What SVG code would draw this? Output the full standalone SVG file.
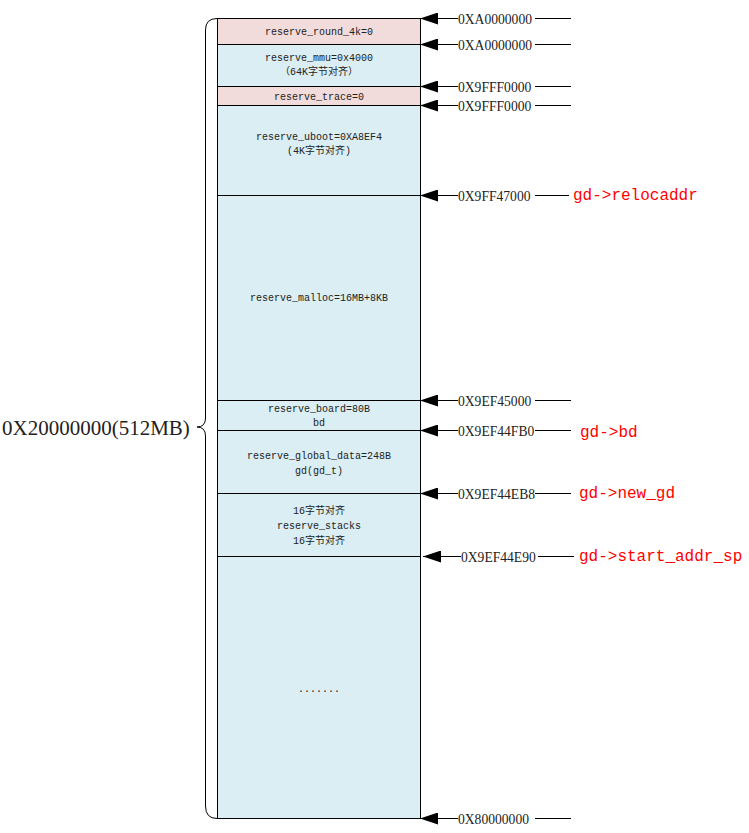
<svg xmlns="http://www.w3.org/2000/svg" width="749" height="833" viewBox="0 0 749 833">
<style>
.pink{fill:#f2dcdb;stroke:#000;stroke-width:1}
.blue{fill:#daeef3;stroke:#000;stroke-width:1}
.t{font-family:"Liberation Mono","Noto Sans CJK SC",monospace;font-size:10px;fill:#222;text-anchor:middle}
.addr{font-family:"Liberation Serif","Noto Sans CJK SC",serif;font-size:13.6px;fill:#222}
.red{font-family:"Liberation Mono","Noto Sans CJK SC",monospace;font-size:16px;fill:#ff0000}
.ln{stroke:#000;stroke-width:1;fill:none}
</style>
<defs>
<marker id="ah" markerWidth="18" markerHeight="12" refX="18" refY="6" orient="auto" markerUnits="userSpaceOnUse">
<path d="M0,0 L18,6 L0,12 Z" fill="#000"/>
</marker>
</defs>
<rect width="749" height="833" fill="#fff"/>
<g id="nodes">
<g id="n_round4k"><rect class="pink" x="217.5" y="18.5" width="203" height="26"/><text class="t" x="319" y="35">reserve_round_4k=0</text></g>
<g id="n_mmu"><rect class="blue" x="217.5" y="44.5" width="203" height="42"/><text class="t" x="319" y="61">reserve_mmu=0x4000</text><text class="t" x="319" y="75">（64K字节对齐）</text></g>
<g id="n_trace"><rect class="pink" x="217.5" y="86.5" width="203" height="19"/><text class="t" x="319" y="100">reserve_trace=0</text></g>
<g id="n_uboot"><rect class="blue" x="217.5" y="105.5" width="203" height="90"/><text class="t" x="319" y="140">reserve_uboot=0XA8EF4</text><text class="t" x="319" y="154">(4K字节对齐)</text></g>
<g id="n_malloc"><rect class="blue" x="217.5" y="195.5" width="203" height="205"/><text class="t" x="319" y="301">reserve_malloc=16MB+8KB</text></g>
<g id="n_board"><rect class="blue" x="217.5" y="400.5" width="203" height="30"/><text class="t" x="319" y="412">reserve_board=80B</text><text class="t" x="319" y="426">bd</text></g>
<g id="n_gdata"><rect class="blue" x="217.5" y="430.5" width="203" height="63"/><text class="t" x="319" y="459">reserve_global_data=248B</text><text class="t" x="319" y="474">gd(gd_t)</text></g>
<g id="n_stacks"><rect class="blue" x="217.5" y="493.5" width="203" height="63"/><text class="t" x="319" y="514">16字节对齐</text><text class="t" x="319" y="529">reserve_stacks</text><text class="t" x="319" y="544">16字节对齐</text></g>
<g id="n_rest"><rect class="blue" x="217.5" y="556.5" width="203" height="262"/><text class="t" x="319" y="692">.......</text></g>
</g>
<g id="brace">
<path class="ln" d="M217,18.5 Q205.5,18.5 205.5,30 L205.5,418 Q205.5,427 197,427 Q205.5,427 205.5,436 L205.5,806 Q205.5,818.5 217,818.5"/>
<text x="2" y="435" style="font-family:'Liberation Serif','Noto Sans CJK SC',serif;font-size:21px;fill:#222">0X20000000(512MB)</text>
</g>
<g id="connectors">
<line class="ln" x1="458" y1="18.5" x2="420" y2="18.5" marker-end="url(#ah)"/>
<line class="ln" x1="535" y1="18.5" x2="571" y2="18.5"/>
<line class="ln" x1="458" y1="44.5" x2="420" y2="44.5" marker-end="url(#ah)"/>
<line class="ln" x1="535" y1="44.5" x2="571" y2="44.5"/>
<line class="ln" x1="458" y1="86.5" x2="420" y2="86.5" marker-end="url(#ah)"/>
<line class="ln" x1="535" y1="86.5" x2="571" y2="86.5"/>
<line class="ln" x1="458" y1="105.5" x2="420" y2="105.5" marker-end="url(#ah)"/>
<line class="ln" x1="535" y1="105.5" x2="571" y2="105.5"/>
<line class="ln" x1="458" y1="195.5" x2="420" y2="195.5" marker-end="url(#ah)"/>
<line class="ln" x1="535" y1="195.5" x2="569" y2="195.5"/>
<line class="ln" x1="458" y1="400.5" x2="420" y2="400.5" marker-end="url(#ah)"/>
<line class="ln" x1="535" y1="400.5" x2="571" y2="400.5"/>
<line class="ln" x1="458" y1="430.5" x2="420" y2="430.5" marker-end="url(#ah)"/>
<line class="ln" x1="535" y1="430.5" x2="571" y2="430.5"/>
<line class="ln" x1="458" y1="493.5" x2="420" y2="493.5" marker-end="url(#ah)"/>
<line class="ln" x1="535" y1="493.5" x2="571" y2="493.5"/>
<line class="ln" x1="461" y1="556.5" x2="423" y2="556.5" marker-end="url(#ah)"/>
<line class="ln" x1="538" y1="556.5" x2="574" y2="556.5"/>
<line class="ln" x1="458" y1="818.5" x2="420" y2="818.5" marker-end="url(#ah)"/>
<line class="ln" x1="535" y1="818.5" x2="571" y2="818.5"/>
</g>
<g id="labels">
<text class="addr" x="458" y="23.5">0XA0000000</text>
<text class="addr" x="458" y="49.5">0XA0000000</text>
<text class="addr" x="458" y="91.5">0X9FFF0000</text>
<text class="addr" x="458" y="110.5">0X9FFF0000</text>
<text class="addr" x="458" y="200.5">0X9FF47000</text>
<text class="addr" x="458" y="405.5">0X9EF45000</text>
<text class="addr" x="458" y="435.5">0X9EF44FB0</text>
<text class="addr" x="458" y="498.5">0X9EF44EB8</text>
<text class="addr" x="461" y="561.5">0X9EF44E90</text>
<text class="addr" x="458" y="823.5">0X80000000</text>
<text class="red" x="573" y="200">gd-&gt;relocaddr</text>
<text class="red" x="580" y="437">gd-&gt;bd</text>
<text class="red" x="579" y="498">gd-&gt;new_gd</text>
<text class="red" x="579" y="561">gd-&gt;start_addr_sp</text>
</g>
</svg>
